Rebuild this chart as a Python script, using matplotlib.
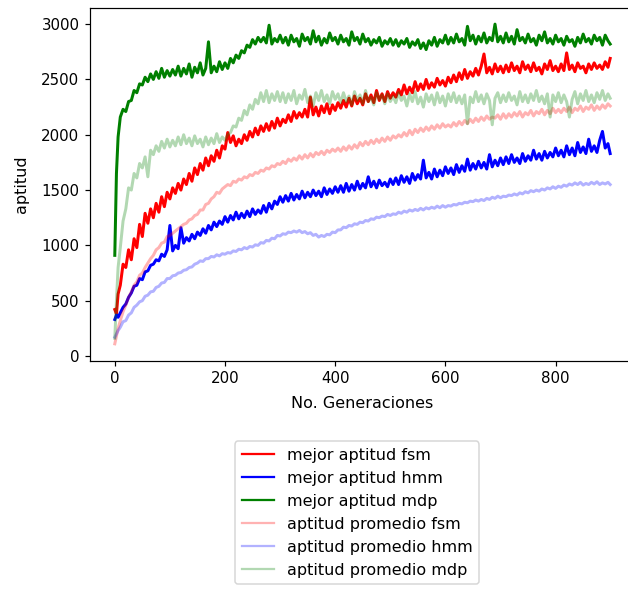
import matplotlib
matplotlib.use("Agg")
import matplotlib.pyplot as plt

generations = [0, 3, 6] + list(range(10, 900, 5)) + [899]

mejor_fsm = [420, 380, 560,
             640, 830, 800, 960, 870, 1060, 980, 1190, 1080, 1290,
             1200, 1330, 1250, 1380, 1300, 1440, 1350, 1480, 1420, 1520,
             1470, 1560, 1500, 1600, 1550, 1650, 1580, 1700, 1640, 1740,
             1680, 1790, 1720, 1810, 1760, 1860, 1790, 1900, 1870, 2020,
             1930, 1990, 1900, 1960, 1920, 2000, 1950, 2030, 1980, 2060,
             2000, 2080, 2030, 2100, 2040, 2120, 2060, 2150, 2080, 2140,
             2110, 2180, 2120, 2210, 2150, 2200, 2160, 2230, 2160, 2340,
             2180, 2250, 2170, 2260, 2200, 2280, 2190, 2270, 2220, 2290,
             2240, 2310, 2250, 2330, 2260, 2350, 2280, 2330, 2270, 2370,
             2300, 2360, 2290, 2400, 2310, 2370, 2300, 2390, 2330, 2380,
             2340, 2410, 2360, 2450, 2370, 2430, 2380, 2480, 2400, 2460,
             2410, 2500, 2420, 2470, 2430, 2510, 2450, 2490, 2440, 2520,
             2470, 2540, 2480, 2560, 2500, 2590, 2510, 2570, 2530, 2600,
             2540, 2620, 2730, 2560, 2610, 2550, 2640, 2570, 2620, 2560,
             2630, 2570, 2650, 2580, 2620, 2560, 2660, 2590, 2630, 2570,
             2650, 2580, 2610, 2550, 2640, 2590, 2670, 2580, 2620, 2570,
             2640, 2580, 2740, 2590, 2630, 2570, 2650, 2600, 2620, 2560,
             2640, 2590, 2650, 2600, 2630, 2590, 2660, 2610,
             2690]

mejor_hmm = [330, 370, 350,
             390, 440, 470, 530, 570, 630, 640, 700, 690, 760,
             770, 820, 830, 870, 860, 920, 900, 960, 1180, 950,
             1000, 970, 1160, 1020, 1070, 1040, 1100, 1060, 1120, 1090,
             1150, 1110, 1180, 1140, 1210, 1170, 1220, 1190, 1260, 1210,
             1270, 1230, 1300, 1240, 1290, 1250, 1310, 1260, 1330, 1280,
             1320, 1290, 1360, 1300, 1380, 1330, 1400, 1370, 1440, 1390,
             1450, 1400, 1470, 1410, 1460, 1420, 1490, 1430, 1480, 1440,
             1500, 1450, 1490, 1440, 1520, 1460, 1510, 1470, 1530, 1480,
             1540, 1480, 1560, 1490, 1550, 1500, 1580, 1510, 1560, 1520,
             1620, 1530, 1580, 1520, 1590, 1540, 1570, 1530, 1600, 1550,
             1610, 1550, 1630, 1570, 1620, 1560, 1650, 1590, 1640, 1600,
             1770, 1610, 1660, 1600, 1690, 1620, 1680, 1630, 1710, 1650,
             1700, 1640, 1730, 1660, 1720, 1670, 1780, 1680, 1740, 1690,
             1760, 1700, 1750, 1690, 1820, 1710, 1770, 1720, 1790, 1730,
             1800, 1740, 1820, 1750, 1790, 1740, 1830, 1760, 1810, 1770,
             1860, 1780, 1830, 1770, 1850, 1790, 1840, 1800, 1880, 1810,
             1860, 1800, 1900, 1820, 1880, 1810, 1930, 1840, 1890, 1830,
             1960, 1850, 1900, 1840, 1950, 2030, 1880, 1920,
             1830]

mejor_mdp = [910, 1650, 1980,
             2160, 2230, 2210, 2300, 2310, 2400, 2380, 2460, 2450, 2520,
             2480, 2550, 2500, 2570, 2510, 2600, 2520, 2580, 2530, 2590,
             2540, 2620, 2530, 2600, 2550, 2640, 2520, 2610, 2560, 2650,
             2540, 2600, 2840, 2560, 2620, 2570, 2660, 2590, 2650, 2600,
             2690, 2650, 2720, 2690, 2760, 2740, 2810, 2790, 2860, 2820,
             2880, 2840, 2880, 2830, 2990, 2820, 2870, 2840, 2900, 2830,
             2880, 2810, 2900, 2840, 2870, 2800, 2910, 2850, 2880, 2820,
             2940, 2840, 2890, 2810, 2870, 2830, 2920, 2850, 2880, 2820,
             2900, 2840, 2870, 2810, 2930, 2850, 2880, 2820, 2910, 2840,
             2870, 2810, 2860, 2830, 2880, 2800, 2850, 2820, 2870, 2810,
             2860, 2800, 2850, 2820, 2870, 2790, 2840, 2810, 2860, 2780,
             2830, 2770, 2850, 2810, 2880, 2800, 2860, 2830, 2900, 2820,
             2880, 2830, 2910, 2840, 2870, 2810, 2980, 2850, 2900, 2820,
             2890, 2840, 2920, 2830, 2880, 2850, 3000, 2840, 2890, 2830,
             2920, 2840, 2890, 2820, 2950, 2850, 2880, 2830, 2910, 2840,
             2870, 2810, 2900, 2850, 2930, 2830, 2870, 2820, 2900, 2840,
             2870, 2810, 2890, 2840, 2860, 2800, 2880, 2830, 2910, 2840,
             2870, 2820, 2900, 2850, 2880, 2810, 2900, 2850,
             2820]

promedio_fsm = [110, 180, 250,
                320, 400, 460, 530, 580, 640, 670, 730, 750, 800,
                840, 880, 910, 960, 980, 1020, 1030, 1080, 1090, 1110,
                1130, 1150, 1170, 1190, 1200, 1230, 1240, 1270, 1280, 1320,
                1320, 1370, 1380, 1420, 1440, 1480, 1470, 1510, 1530, 1550,
                1540, 1580, 1570, 1600, 1590, 1620, 1610, 1640, 1630, 1660,
                1650, 1680, 1670, 1700, 1690, 1720, 1710, 1740, 1730, 1760,
                1740, 1780, 1760, 1790, 1770, 1810, 1780, 1820, 1790, 1830,
                1800, 1840, 1820, 1850, 1820, 1860, 1840, 1870, 1850, 1880,
                1850, 1890, 1860, 1900, 1870, 1910, 1880, 1930, 1900, 1940,
                1910, 1950, 1920, 1960, 1930, 1970, 1940, 1980, 1950, 1990,
                1970, 2000, 1980, 2020, 1990, 2040, 2000, 2050, 2020, 2060,
                2030, 2070, 2040, 2080, 2050, 2090, 2060, 2100, 2070, 2090,
                2070, 2110, 2080, 2120, 2090, 2130, 2100, 2140, 2110, 2150,
                2120, 2160, 2130, 2170, 2140, 2160, 2150, 2180, 2140, 2190,
                2150, 2190, 2160, 2200, 2170, 2210, 2160, 2200, 2180, 2220,
                2170, 2210, 2190, 2230, 2180, 2220, 2190, 2240, 2200, 2230,
                2200, 2240, 2210, 2250, 2200, 2240, 2220, 2260, 2210, 2250,
                2230, 2270, 2220, 2260, 2230, 2270, 2240, 2280,
                2260]

promedio_hmm = [170, 200, 230,
                260, 310, 320, 370, 390, 440, 460, 490, 500, 540,
                550, 580, 585, 620, 630, 660, 665, 700, 700, 725,
                730, 750, 755, 775, 780, 800, 805, 830, 840, 860,
                855, 880, 880, 900, 895, 915, 905, 925, 920, 935,
                930, 950, 945, 965, 960, 980, 970, 990, 985, 1005,
                1000, 1025, 1020, 1045, 1040, 1065, 1060, 1090, 1085, 1105,
                1100, 1120, 1115, 1130, 1120, 1135, 1115, 1125, 1105, 1115,
                1090, 1100, 1075, 1090, 1080, 1100, 1095, 1120, 1115, 1140,
                1140, 1165, 1160, 1180, 1175, 1195, 1190, 1210, 1205, 1225,
                1220, 1240, 1235, 1255, 1250, 1265, 1260, 1280, 1270, 1285,
                1280, 1300, 1290, 1310, 1300, 1320, 1310, 1325, 1315, 1335,
                1320, 1340, 1330, 1345, 1335, 1355, 1340, 1360, 1345, 1360,
                1355, 1370, 1365, 1380, 1375, 1390, 1385, 1400, 1395, 1410,
                1400, 1415, 1405, 1425, 1415, 1435, 1425, 1445, 1430, 1445,
                1440, 1455, 1450, 1465, 1455, 1475, 1465, 1485, 1475, 1495,
                1485, 1500, 1490, 1510, 1500, 1520, 1510, 1530, 1515, 1535,
                1525, 1545, 1535, 1555, 1545, 1565, 1550, 1570, 1545, 1560,
                1550, 1570, 1555, 1575, 1550, 1565, 1555, 1570,
                1550]

promedio_mdp = [160, 500, 800,
                980, 1220, 1330, 1520, 1500, 1650, 1610, 1740, 1700, 1800,
                1620, 1860, 1820, 1900, 1850, 1940, 1880, 1960, 1890, 1950,
                1900, 1980, 1910, 2000, 1920, 1970, 1900, 1990, 1920, 1960,
                1890, 1980, 1910, 1970, 1920, 2010, 1930, 1980, 1950, 2000,
                2020, 2080, 2070, 2150, 2130, 2220, 2180, 2270, 2230, 2320,
                2280, 2380, 2300, 2400, 2290, 2370, 2310, 2390, 2300, 2380,
                2290, 2370, 2310, 2400, 2280, 2360, 2320, 2410, 2290, 2350,
                2260, 2380, 2310, 2400, 2300, 2360, 2280, 2390, 2320, 2370,
                2290, 2380, 2300, 2350, 2270, 2390, 2310, 2360, 2280, 2400,
                2300, 2340, 2270, 2380, 2320, 2360, 2280, 2370, 2300, 2350,
                2290, 2380, 2310, 2350, 2260, 2370, 2300, 2390, 2280, 2340,
                2250, 2370, 2300, 2360, 2270, 2380, 2290, 2350, 2260, 2370,
                2300, 2380, 2290, 2350, 2280, 2360, 2100, 2340, 2290, 2390,
                2300, 2360, 2280, 2370, 2310, 2090, 2330, 2380, 2290, 2360,
                2300, 2380, 2310, 2350, 2270, 2390, 2300, 2360, 2290, 2370,
                2310, 2400, 2300, 2350, 2280, 2370, 2160, 2360, 2300, 2380,
                2290, 2360, 2300, 2160, 2320, 2390, 2280, 2370, 2310, 2400,
                2300, 2360, 2290, 2380, 2320, 2400, 2310, 2370,
                2330]

labels = ["mejor aptitud fsm", "mejor aptitud hmm", "mejor aptitud mdp",
          "aptitud promedio fsm", "aptitud promedio hmm", "aptitud promedio mdp"]
series = [mejor_fsm, mejor_hmm, mejor_mdp, promedio_fsm, promedio_hmm, promedio_mdp]
colors = ["r", "b", "g", "r", "b", "g"]
alphas = [1, 1, 1, 0.3, 0.3, 0.3]

plt.rcParams["font.family"] = ["DejaVu Sans"]
plt.rcParams["font.size"] = 10.7
plt.rcParams["xtick.labelsize"] = 10
plt.rcParams["ytick.labelsize"] = 10

fig = plt.figure(figsize=(628 / 108, 591 / 108), dpi=108)
ax = fig.add_axes([0.1433, 0.3892, 0.8678, 0.5973])

for vals, lab, c, a in zip(series, labels, colors, alphas):
    ax.plot(generations[:len(vals)], vals, color=c, alpha=a, lw=2.0, label=lab)

ax.set_xlim(-45, 944)
ax.set_ylim(-45, 3146)
ax.set_xticks([0, 200, 400, 600, 800])
ax.set_yticks([0, 500, 1000, 1500, 2000, 2500, 3000])
ax.set_xlabel("No. Generaciones", labelpad=6.3)
ax.set_ylabel("aptitud", labelpad=8.5)
leg = ax.legend(loc="upper center", bbox_to_anchor=(0.49, -0.205), fontsize=10.7)
for line in leg.get_lines():
    line.set_linewidth(1.5)

fig.savefig("out.png", dpi=108)
